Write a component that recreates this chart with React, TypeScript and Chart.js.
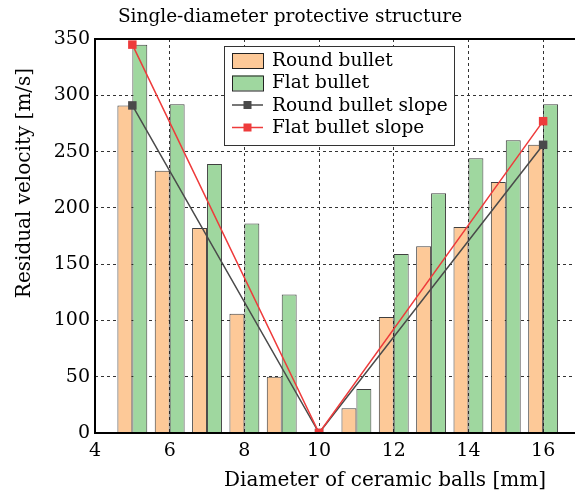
import React, { useEffect, useRef } from "react";
import { Chart, registerables } from "chart.js";

Chart.register(...registerables);

const diameters = [5, 6, 7, 8, 9, 11, 12, 13, 14, 15, 16];
const roundBullet = [291, 233, 182, 106, 50, 22, 103, 166, 183, 223, 256];
const flatBullet = [345, 292, 239, 186, 123, 39, 159, 213, 244, 260, 292];
const slopeDiameters = [5, 10, 16];
const roundSlope = [291, 0, 256];
const flatSlope = [345, 0, 277];
const xTicks = [4, 6, 8, 10, 12, 14, 16];
const yTicks = [0, 50, 100, 150, 200, 250, 300, 350];

const titleText = "Single-diameter protective structure";
const xTitle = "Diameter of ceramic balls [mm]";
const yTitle = "Residual velocity [m/s]";
const legendLabels = ["Round bullet", "Flat bullet", "Round bullet slope", "Flat bullet slope"];

const FONT = "'DejaVu Serif', 'Liberation Serif', serif";
const ROUND_FILL = "#fdc998";
const FLAT_FILL = "#9fd79f";
const ROUND_LINE = "#4a4a4a";
const FLAT_LINE = "#ee3b3b";

const framePlugin = {
  id: "frame",
  afterDatasetsDraw(chart: any) {
    const { ctx, chartArea } = chart;
    const { left, right, top, bottom } = chartArea;
    ctx.save();
    ctx.strokeStyle = "#000";
    ctx.lineWidth = 2;
    ctx.beginPath();
    ctx.moveTo(right + 2, top);
    ctx.lineTo(left, top);
    ctx.lineTo(left, bottom);
    ctx.lineTo(right + 2, bottom);
    ctx.stroke();
    ctx.restore();
  },
  afterDraw(chart: any) {
    const { ctx } = chart;
    ctx.save();
    ctx.fillStyle = "#000";
    ctx.textAlign = "center";
    ctx.textBaseline = "middle";
    // title
    ctx.font = `18.5px ${FONT}`;
    ctx.fillText(titleText, 290, 17);
    // axis titles
    ctx.font = `20px ${FONT}`;
    ctx.fillText(xTitle, 385, 481);
    ctx.save();
    ctx.translate(25, 183);
    ctx.rotate(-Math.PI / 2);
    ctx.fillText(yTitle, 0, 0);
    ctx.restore();

    // legend
    const bx = 224, by = 46, bw = 230, bh = 99;
    ctx.fillStyle = "#fff";
    ctx.fillRect(bx, by, bw, bh);
    ctx.strokeStyle = "#333";
    ctx.lineWidth = 1;
    ctx.strokeRect(bx + 0.5, by + 0.5, bw, bh);
    const rows = [60, 82.5, 105, 127.5];
    const sx = 232, sw = 31;
    rows.forEach((cy, i) => {
      if (i < 2) {
        ctx.fillStyle = i === 0 ? ROUND_FILL : FLAT_FILL;
        ctx.fillRect(sx, cy - 7, sw, 15);
        ctx.strokeStyle = "#222";
        ctx.lineWidth = 1;
        ctx.strokeRect(sx + 0.5, cy - 7 + 0.5, sw, 15);
      } else {
        const c = i === 2 ? ROUND_LINE : FLAT_LINE;
        ctx.strokeStyle = c;
        ctx.lineWidth = 1.5;
        ctx.beginPath();
        ctx.moveTo(sx, cy);
        ctx.lineTo(sx + sw, cy);
        ctx.stroke();
        ctx.fillStyle = c;
        ctx.fillRect(sx + sw / 2 - 4, cy - 4, 8, 8);
      }
      ctx.fillStyle = "#000";
      ctx.font = `18.5px ${FONT}`;
      ctx.textAlign = "left";
      ctx.textBaseline = "middle";
      ctx.fillText(legendLabels[i], 272, cy + 1);
    });
    ctx.restore();
  },
};

export default function App() {
  const ref = useRef<HTMLCanvasElement | null>(null);
  useEffect(() => {
    document.body.style.margin = "0";
    const canvas = ref.current!;
    const chart = new Chart(canvas, {
      type: "bar",
      data: {
        datasets: [
          {
            type: "line",
            label: legendLabels[3],
            data: slopeDiameters.map((x, i) => ({ x, y: flatSlope[i] })),
            borderColor: FLAT_LINE,
            backgroundColor: FLAT_LINE,
            borderWidth: 1.5,
            pointStyle: "rect",
            pointRadius: 6,
            pointBorderWidth: 0,
            order: 0,
          } as any,
          {
            type: "line",
            label: legendLabels[2],
            data: slopeDiameters.map((x, i) => ({ x, y: roundSlope[i] })),
            borderColor: ROUND_LINE,
            backgroundColor: ROUND_LINE,
            borderWidth: 1.5,
            pointStyle: "rect",
            pointRadius: 6,
            pointBorderWidth: 0,
            order: 1,
          } as any,
          {
            type: "bar",
            label: legendLabels[0],
            data: diameters.map((x, i) => ({ x, y: roundBullet[i] })),
            backgroundColor: ROUND_FILL,
            borderColor: "rgba(30,30,30,0.85)",
            borderWidth: 1,
            categoryPercentage: 0.8,
            barPercentage: 1,
            order: 2,
          } as any,
          {
            type: "bar",
            label: legendLabels[1],
            data: diameters.map((x, i) => ({ x, y: flatBullet[i] })),
            backgroundColor: FLAT_FILL,
            borderColor: "rgba(30,30,30,0.85)",
            borderWidth: 1,
            categoryPercentage: 0.8,
            barPercentage: 1,
            order: 3,
          } as any,
        ],
      },
      options: {
        responsive: false,
        animation: false,
        devicePixelRatio: 1,
        layout: { padding: { top: 39, right: 0, bottom: 0, left: 0 } },
        plugins: {
          legend: { display: false },
          title: { display: false },
          tooltip: { enabled: false },
        },
        scales: {
          x: {
            type: "linear",
            offset: false,
            min: 4,
            max: 16.8,
            afterBuildTicks(scale: any) {
              scale.ticks = xTicks.map((v) => ({ value: v }));
            },
            afterFit(scale: any) {
              scale.height = 65;
            },
            ticks: {
              color: "#000",
              font: { family: FONT, size: 19 },
              padding: 7,
              maxRotation: 0,
            },
            grid: { color: "#333", lineWidth: 1, drawTicks: false, offset: false },
            border: { display: false, dash: [3, 3] },
          },
          y: {
            type: "linear",
            min: 0,
            max: 350,
            afterBuildTicks(scale: any) {
              scale.ticks = yTicks.map((v) => ({ value: v }));
            },
            afterFit(scale: any) {
              scale.width = 95;
            },
            ticks: {
              color: "#000",
              font: { family: FONT, size: 19 },
              padding: 5,
            },
            grid: { color: "#333", lineWidth: 1, drawTicks: false },
            border: { display: false, dash: [3, 3] },
          },
        },
      },
      plugins: [framePlugin],
    } as any);
    return () => chart.destroy();
  }, []);
  return <canvas ref={ref} width={579} height={498} style={{ display: "block" }} />;
}
